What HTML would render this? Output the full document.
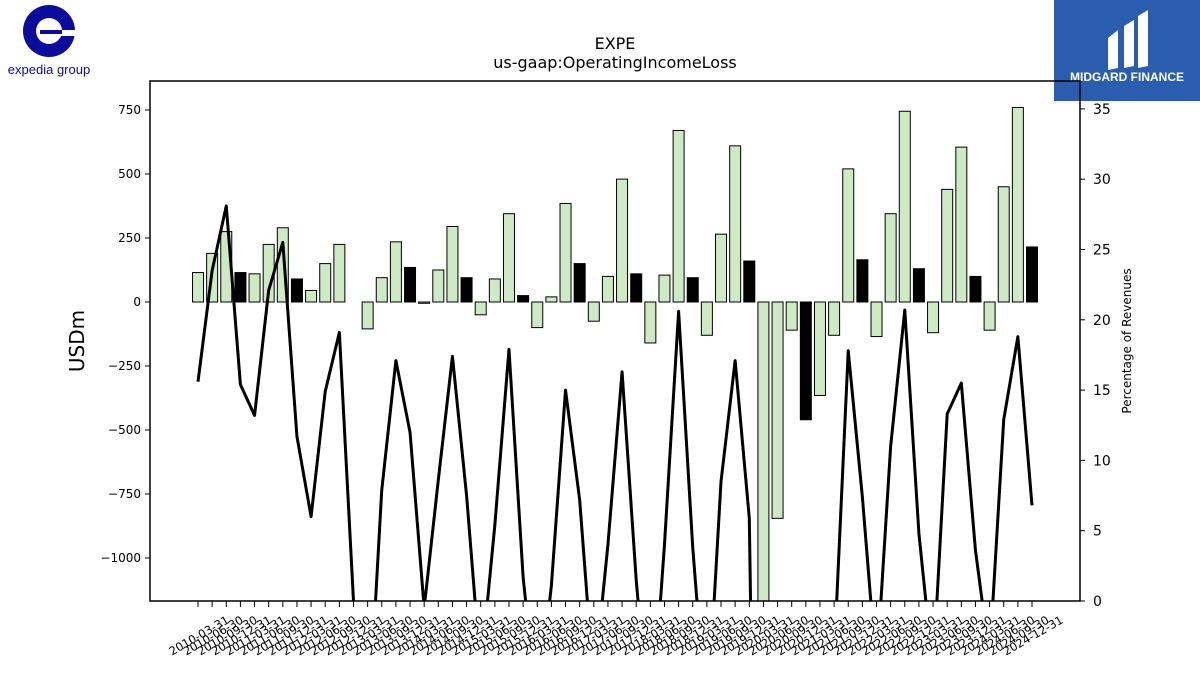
<!DOCTYPE html>
<html><head><meta charset="utf-8"><style>
html,body{margin:0;background:#fff;overflow:hidden;width:1200px;height:675px}
svg{display:block}
svg text{font-family:"DejaVu Sans","Liberation Sans",sans-serif}
</style></head><body>
<svg id="c" width="1200" height="675" xmlns="http://www.w3.org/2000/svg">
<g>
<circle cx="49" cy="31" r="26" fill="#0b0b9c"/>
<circle cx="49" cy="31" r="13" fill="#fff"/>
<rect x="49" y="30" width="27" height="6" fill="#fff"/>
<rect x="40" y="30" width="22" height="4" fill="#0b0b9c"/>
<text x="49" y="74" font-size="13" fill="#0b0b9c" text-anchor="middle" style="font-family:'Liberation Sans',sans-serif">expedia group</text>
</g>
<g>
<rect x="1054" y="0" width="146" height="101" fill="#2a5db0"/>
<path d="M1108 38 L1118 30 L1118 68 L1108 70 Z M1124 26 L1134 20 L1134 66 L1124 68 Z M1138 16 L1148 10 L1148 66 L1138 68 Z" fill="#fff"/>
<text x="1127" y="81" font-size="12" font-weight="bold" fill="#fff" text-anchor="middle" style="font-family:'Liberation Sans',sans-serif">MIDGARD FINANCE</text>
</g>
<text x="615" y="49" font-size="16" text-anchor="middle">EXPE</text>
<text x="615" y="68" font-size="16" text-anchor="middle">us-gaap:OperatingIncomeLoss</text>
<text transform="translate(84,341) rotate(-90)" font-size="20" text-anchor="middle">USDm</text>
<text transform="translate(1131,341) rotate(-90)" font-size="12" text-anchor="middle">Percentage of Revenues</text>
<defs><clipPath id="pc"><rect x="150" y="81" width="930" height="520"/></clipPath></defs>
<g id="bars" clip-path="url(#pc)"></g>
<g id="line" clip-path="url(#pc)"></g>
<g id="axes"></g>
<rect x="150" y="81" width="930" height="520" fill="none" stroke="#000" stroke-width="1.5"/>
</svg>
<script>
const categories=[];
for(let y=2010;y<=2024;y++){for(const q of ['03-31','06-30','09-30','12-31'])categories.push(y+'-'+q);}
const opIncome=[115,190,275,115,110,225,290,90,45,150,225,0,-105,95,235,135,-5,125,295,95,-50,90,345,25,-100,20,385,150,-75,100,480,110,-160,105,670,95,-130,265,610,160,-1200,-845,-110,-460,-365,-130,520,165,-135,345,745,130,-120,440,605,100,-110,450,760,215];
const pctRevenue=[15.6,23.5,28.1,15.4,13.2,22.1,25.5,11.7,6.0,14.9,19.1,0,-10,7.9,17.1,12.0,-0.5,8.6,17.4,7.5,-5,5.4,17.9,1.7,-8,1.1,15.0,7.2,-6,4.0,16.3,1.5,-10,4.0,20.6,3.8,-9,8.5,17.1,5.9,-60,-80,-20,-30,-15,-4,17.8,7.4,-5,11.0,20.7,4.8,-5,13.3,15.5,3.6,-4,12.9,18.8,6.8];
const leftTicks=[750,500,250,0,-250,-500,-750,-1000];
const rightTicks=[0,5,10,15,20,25,30,35];
const NS='http://www.w3.org/2000/svg';
const X=i=>198+i*(834/59);
const Y=v=>302-v*0.256;
const Y2=v=>601-v*14.06;
function mk(t,a,p){const e=document.createElementNS(NS,t);for(const k in a)e.setAttribute(k,a[k]);p.appendChild(e);return e;}
const bars=document.getElementById('bars'),line=document.getElementById('line'),axes=document.getElementById('axes');
opIncome.forEach((v,i)=>{
 const y0=Y(0),y1=Y(v);
 const r=mk('rect',{x:X(i)-5.5,y:Math.min(y0,y1),width:11,height:Math.abs(y1-y0),fill:(i%4==3)?'#000':'#cdeac4',stroke:'#000','stroke-width':1},bars);
 
 
});
const pl=mk('polyline',{points:pctRevenue.map((v,i)=>X(i)+','+Y2(v)).join(' '),fill:'none',stroke:'#000','stroke-width':3,'stroke-linejoin':'round'},line);


leftTicks.forEach(v=>{
 mk('line',{x1:145,x2:150,y1:Y(v),y2:Y(v),stroke:'#000'},axes);
 const t=mk('text',{x:141,y:Y(v)+4,'font-size':12,'text-anchor':'end'},axes);t.textContent=v<0?'\u2212'+(-v):v;
 
 
});
rightTicks.forEach(v=>{
 mk('line',{x1:1080,x2:1085,y1:Y2(v),y2:Y2(v),stroke:'#000'},axes);
 const t=mk('text',{x:1093,y:Y2(v)+5,'font-size':14},axes);t.textContent=v;
 
 
});
categories.forEach((c,i)=>{
 mk('line',{x1:X(i),x2:X(i),y1:601,y2:607,stroke:'#000'},axes);
 const t=mk('text',{transform:'translate('+(X(i)+3)+',639) rotate(-30)','font-size':11.5,'text-anchor':'middle'},axes);t.textContent=c;
 
 
});
</script>
</body></html>
